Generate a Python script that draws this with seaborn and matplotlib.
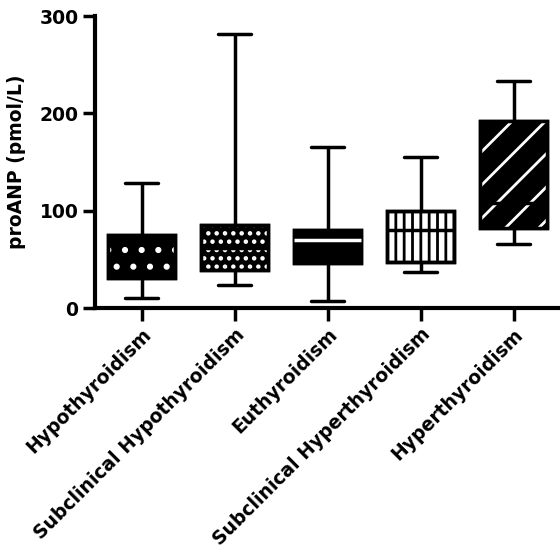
import numpy as np
import pandas as pd
import matplotlib.pyplot as plt
import matplotlib.patches as mpatches
import seaborn as sns

# groups and five-number summaries (pmol/L)
groups = ['Hypothyroidism', 'Subclinical Hypothyroidism', 'Euthyroidism',
          'Subclinical Hyperthyroidism', 'Hyperthyroidism']
lows = [10, 24, 7, 37, 66]
q1s = [31, 39, 46, 47, 82]
medians = [55, 62, 70, 80, 108]
q3s = [75, 85, 80, 100, 192]
highs = [129, 282, 165, 155, 233]
yticks = [0, 100, 200, 300]

# box fill styles (face, hatch, hatch colour)
faces = ['black', 'black', 'black', 'white', 'black']
hatches = ['.', '..', '', '||', '/']
hatch_cols = ['white', 'white', 'white', 'black', 'white']

sns.set_style('ticks')
plt.rcParams['font.family'] = ['DejaVu Sans']
plt.rcParams['font.weight'] = 'bold'
plt.rcParams['hatch.linewidth'] = 2.0

# with five points per group the quartiles are exactly the 2nd/3rd/4th values
rows = []
for g, a, b, c, d, e in zip(groups, lows, q1s, medians, q3s, highs):
    for v in (a, b, c, d, e):
        rows.append({'group': g, 'value': v})
df = pd.DataFrame(rows)

fig = plt.figure(figsize=(5.6, 5.57), dpi=100)
ax = fig.add_axes([0.170, 0.447, 0.83, 0.524])

sns.boxplot(data=df, x='group', y='value', order=groups, whis=(0, 100),
            width=0.72, color='black', linecolor='black', linewidth=2.5,
            showfliers=False, ax=ax)

boxes = [p for p in ax.patches]
for i, p in enumerate(boxes):
    p.set_facecolor(faces[i])
    p.set_edgecolor('black')
    if hatches[i]:
        ax.add_patch(mpatches.PathPatch(p.get_path(), transform=p.get_transform(),
                                        facecolor='none', edgecolor=hatch_cols[i],
                                        hatch=hatches[i], lw=0, zorder=p.get_zorder() + 0.1))
    ax.add_patch(mpatches.PathPatch(p.get_path(), transform=p.get_transform(),
                                    facecolor='none', edgecolor='black',
                                    lw=2.5, zorder=p.get_zorder() + 0.2))

# median lines on top; white one for the solid box
for ln in ax.lines:
    y = ln.get_ydata()
    if len(y) == 2 and y[0] == y[1] and y[0] in medians:
        i = medians.index(y[0])
        ln.set_zorder(10)
        ln.set_color('white' if i == 2 else 'black')

ax.set_xlim(-0.5, 4.5)
ax.set_ylim(0, 300)
ax.set_yticks(yticks)
ax.set_yticklabels([str(t) for t in yticks], fontsize=13.5, fontweight='bold')
ax.set_xticks(range(len(groups)))
ax.set_xticklabels(groups, rotation=45, ha='right', va='top',
                   rotation_mode='anchor', fontsize=13.5, fontweight='bold')
ax.set_xlabel('')
ax.set_ylabel('proANP (pmol/L)', fontsize=13.5, fontweight='bold', color='black')
ax.yaxis.set_label_coords(-0.148, 0.5)
ax.tick_params(axis='both', length=9, width=2.5, pad=3, colors='black')
sns.despine(ax=ax)
for s in ['left', 'bottom']:
    ax.spines[s].set_linewidth(3)
    ax.spines[s].set_color('black')

fig.savefig('out.png', dpi=100)
